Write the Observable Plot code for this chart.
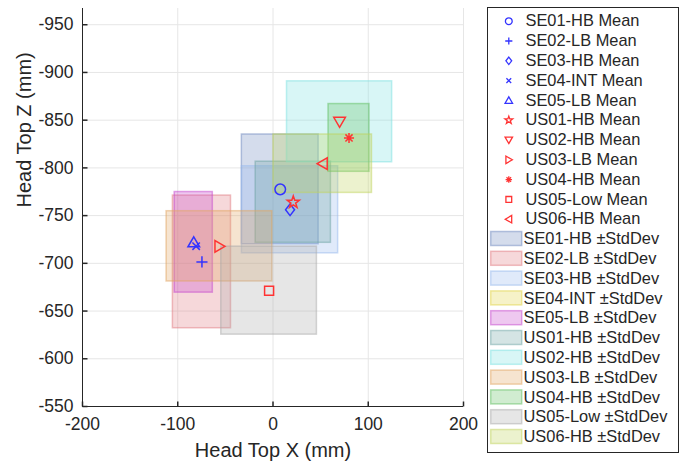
<!DOCTYPE html>
<html>
<head>
<meta charset="utf-8">
<script src="https://cdn.jsdelivr.net/npm/d3@7"></script>
<script src="https://cdn.jsdelivr.net/npm/@observablehq/plot@0.6"></script>
<style>
  body { margin: 0; background: #fff; }
  #wrap { position: relative; width: 686px; height: 462px; font-family: "Liberation Sans", Arial, sans-serif; }
  #wrap svg { display: block; }
  #main { position: absolute; left: 0; top: 0; }
  #legend { position: absolute; left: 487px; top: 7px; }
</style>
</head>
<body>
<div id="wrap"><div id="main"></div><div id="legend"></div></div>
<script>
// ---- data ----
const groups = ["SE01-HB", "SE02-LB", "SE03-HB", "SE04-INT", "SE05-LB", "US01-HB", "US02-HB", "US03-LB", "US04-HB", "US05-Low", "US06-HB"];
const meanX = [7.6, -74.6, 17.9, -80.7, -83.2, 21.3, 69.9, -56.2, 79.8, -4.1, 52.2];
const meanY = [-777.5, -701.5, -756.1, -718.0, -722.0, -764.0, -848.3, -717.8, -831.4, -671.4, -804.4];
const stdX = [40.3, 30.5, 50.5, NaN, 20.0, 39.5, 55.2, 55.5, 21.5, 50.2, 51.7];
const stdY = [57.5, 69.5, 45.6, NaN, 52.7, 42.5, 42.4, 36.8, 35.5, 46.1, 30.6];
const markerNames = ["circle", "plus", "diamond", "times", "triUp", "star", "triDown", "triRight", "asterisk", "square", "triLeft"];
const markerColors = ["#3333ff", "#3333ff", "#3333ff", "#3333ff", "#3333ff", "#ff3333", "#ff3333", "#ff3333", "#ff3333", "#ff3333", "#ff3333"];
const boxColors = ["#708ac0", "#e17d84", "#98b9ee", "#e1d448", "#c648cd", "#70a5a5", "#7de1e1", "#e1a562", "#62c062", "#acacac", "#c0d45c"];
const xTicks = [-200, -100, 0, 100, 200];
const yTicks = [-950, -900, -850, -800, -750, -700, -650, -600, -550];
const meanLabels = groups.map(g => g + " Mean");
const boxLabels = groups.map(g => g + " \u00b1StdDev");

// ---- marker shapes ----
const R = (size) => Math.sqrt(size / Math.PI);
const symbolsLib = {
  circle: {draw(c, size) { const s = R(size); c.moveTo(s, 0); c.arc(0, 0, s, 0, 2 * Math.PI); c.closePath(); }},
  plus: {draw(c, size) { const s = R(size) * 1.05; c.moveTo(-s, 0); c.lineTo(s, 0); c.moveTo(0, -s); c.lineTo(0, s); }},
  diamond: {draw(c, size) { const s = R(size); c.moveTo(0, -1.1 * s); c.lineTo(0.85 * s, 0); c.lineTo(0, 1.1 * s); c.lineTo(-0.85 * s, 0); c.closePath(); }},
  times: {draw(c, size) { const s = R(size) * 0.7; c.moveTo(-s, -s); c.lineTo(s, s); c.moveTo(-s, s); c.lineTo(s, -s); }},
  triUp: {draw(c, size) { const s = R(size); c.moveTo(0, -1.05 * s); c.lineTo(1.1 * s, 0.85 * s); c.lineTo(-1.1 * s, 0.85 * s); c.closePath(); }},
  triDown: {draw(c, size) { const s = R(size); c.moveTo(0, 1.05 * s); c.lineTo(1.1 * s, -0.85 * s); c.lineTo(-1.1 * s, -0.85 * s); c.closePath(); }},
  triRight: {draw(c, size) { const s = R(size); c.moveTo(1.05 * s, 0); c.lineTo(-0.85 * s, -1.1 * s); c.lineTo(-0.85 * s, 1.1 * s); c.closePath(); }},
  triLeft: {draw(c, size) { const s = R(size); c.moveTo(-1.05 * s, 0); c.lineTo(0.85 * s, -1.1 * s); c.lineTo(0.85 * s, 1.1 * s); c.closePath(); }},
  star: {draw(c, size) {
    const s = R(size), ro = 1.2 * s, ri = 0.48 * s;
    for (let k = 0; k < 10; k++) {
      const a = -Math.PI / 2 + k * Math.PI / 5, rr = k % 2 ? ri : ro;
      const px = rr * Math.cos(a), py = rr * Math.sin(a);
      k ? c.lineTo(px, py) : c.moveTo(px, py);
    }
    c.closePath();
  }},
  asterisk: {draw(c, size) {
    const s = R(size) * 0.95;
    for (let k = 0; k < 4; k++) {
      const a = k * Math.PI / 4;
      c.moveTo(-s * Math.cos(a), -s * Math.sin(a)); c.lineTo(s * Math.cos(a), s * Math.sin(a));
    }
  }},
  square: {draw(c, size) { const s = R(size) * 0.85; c.moveTo(-s, -s); c.lineTo(s, -s); c.lineTo(s, s); c.lineTo(-s, s); c.closePath(); }}
};
const tickUp = {draw(c) { c.moveTo(0, 0); c.lineTo(0, -5); }};
const tickRight = {draw(c) { c.moveTo(0, 0); c.lineTo(5, 0); }};

const rows = groups.map((g, i) => ({
  name: g, mx: meanX[i], my: meanY[i], sx: stdX[i], sy: stdY[i],
  sym: symbolsLib[markerNames[i]], mc: markerColors[i], bc: boxColors[i]
}));

const ink = "#262626";

const main = Plot.plot({
  width: 686, height: 462,
  marginLeft: 82, marginRight: 223, marginTop: 8, marginBottom: 56,
  style: {fontFamily: '"Liberation Sans", Arial, sans-serif', background: "transparent", overflow: "visible"},
  x: {domain: [-200, 200]},
  y: {domain: [-550, -967]},
  marks: [
    Plot.gridX(xTicks, {stroke: "#e6e6e6", strokeOpacity: 1}),
    Plot.gridY(yTicks, {stroke: "#e6e6e6", strokeOpacity: 1}),
    Plot.rect(rows.filter(d => isFinite(d.sx)), {
      x1: d => d.mx - d.sx, x2: d => d.mx + d.sx,
      y1: d => d.my - d.sy, y2: d => d.my + d.sy,
      fill: d => d.bc, fillOpacity: 0.3, stroke: d => d.bc, strokeOpacity: 0.5, strokeWidth: 1.5
    }),
    ...rows.map(d => Plot.dot([d], {x: "mx", y: "my", symbol: d.sym, r: 5.3, stroke: d.mc, fill: "none", strokeWidth: 1.5})),
    Plot.ruleX([-200], {stroke: ink}),
    Plot.ruleY([-550], {stroke: ink}),
    Plot.dot(xTicks, {x: d => d, y: () => -550, symbol: tickUp, stroke: ink, fill: "none"}),
    Plot.dot(yTicks, {x: () => -200, y: d => d, symbol: tickRight, stroke: ink, fill: "none"}),
    Plot.axisX({ticks: xTicks, tickSize: 0, tickPadding: 11, label: null, fontSize: 17.5, fill: ink, tickFormat: d => String(d)}),
    Plot.axisY({ticks: yTicks, tickSize: 0, tickPadding: 9, label: null, fontSize: 17.5, fill: ink, tickFormat: d => String(d)}),
    Plot.text(["Head Top X (mm)"], {text: d => d, frameAnchor: "bottom", dy: 50, fontSize: 20, fill: ink}),
    Plot.text(["Head Top Z (mm)"], {text: d => d, frameAnchor: "left", dx: -58, rotate: -90, fontSize: 20, fill: ink})
  ]
});
document.getElementById("main").appendChild(main);

// ---- legend ----
const rowH = 19.8, row0 = 13.7;
const n = groups.length;
const legRows = rows.map((d, i) => ({...d, lab: meanLabels[i], y: row0 + rowH * i}));
const legBoxes = rows.map((d, i) => ({...d, lab: boxLabels[i], y: row0 + rowH * (i + n)}));

const legend = Plot.plot({
  width: 191, height: 445,
  margin: 0,
  style: {fontFamily: '"Liberation Sans", Arial, sans-serif', background: "#fff", overflow: "visible"},
  x: {type: "identity", axis: null},
  y: {type: "identity", axis: null},
  marks: [
    Plot.frame({stroke: ink, strokeWidth: 1}),
    ...legRows.map(d => Plot.dot([d], {x: () => 21.3, y: "y", symbol: d.sym, r: 3.4, stroke: d.mc, fill: "none", strokeWidth: 1.3})),
    Plot.text(legRows, {x: () => 38, y: "y", text: "lab", textAnchor: "start", fontSize: 16.4, fill: ink}),
    Plot.rect(legBoxes, {x1: () => 3.7, x2: () => 34.7, y1: d => d.y - 7, y2: d => d.y + 7,
      fill: d => d.bc, fillOpacity: 0.3, stroke: d => d.bc, strokeOpacity: 0.5, strokeWidth: 1.5}),
    Plot.text(legBoxes, {x: () => 36, y: "y", text: "lab", textAnchor: "start", fontSize: 16.4, fill: ink})
  ]
});
document.getElementById("legend").appendChild(legend);
</script>
</body>
</html>
